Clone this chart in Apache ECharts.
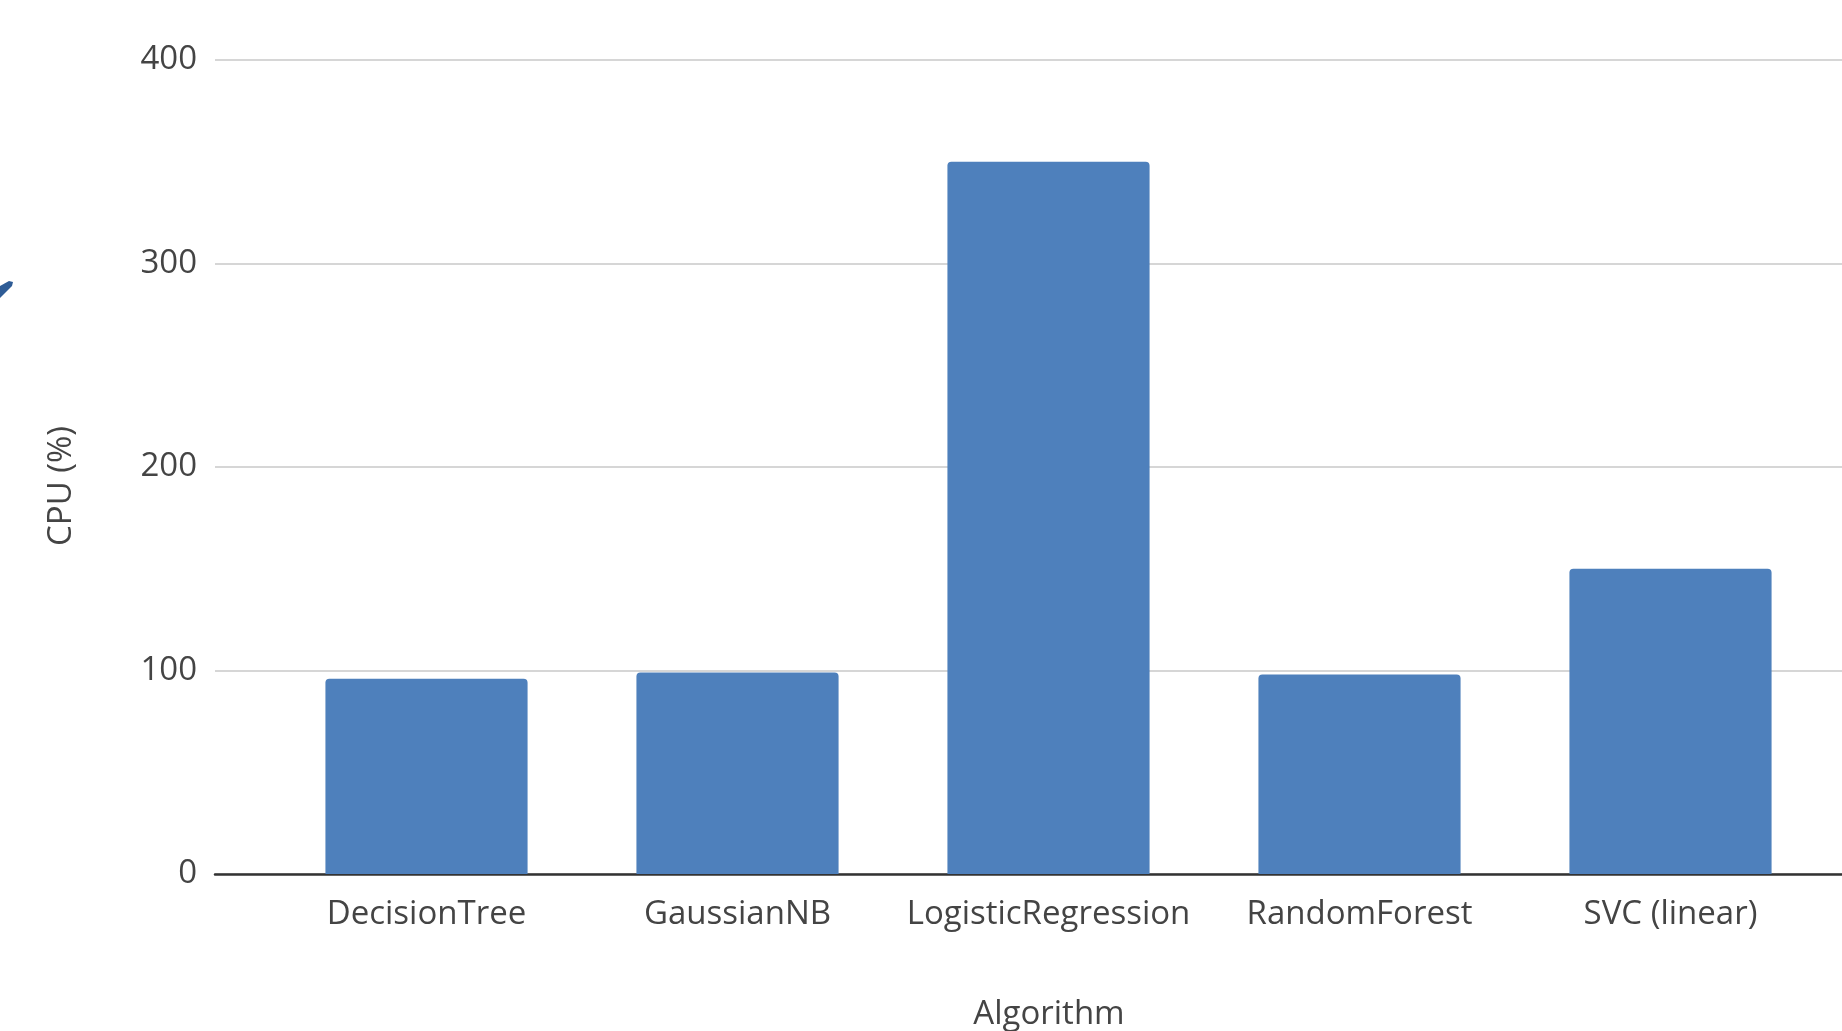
<!DOCTYPE html>
<html>
<head>
<meta charset="utf-8">
<script src="https://cdn.jsdelivr.net/npm/echarts@6/dist/echarts.min.js"></script>
<style>
html,body{margin:0;padding:0;background:#fff;}
#chart{width:1842px;height:1031px;}
</style>
</head>
<body>
<div id="chart"></div>
<script>
var categories = ['DecisionTree', 'GaussianNB', 'LogisticRegression', 'RandomForest', 'SVC (linear)'];
var cpuValues = [96, 99, 350, 98, 150];
var yTicks = [0, 100, 200, 300, 400];
var xTitle = 'Algorithm';
var yTitle = 'CPU (%)';

var FONT = '"Open Sans", sans-serif';
var FS = 33;
var chart = echarts.init(document.getElementById('chart'), null, {renderer: 'canvas'});
chart.setOption({
  animation: false,
  backgroundColor: '#ffffff',
  grid: [
    {left: 215, right: 0, top: 60, bottom: 157},
    {left: 271, right: 16, top: 60, bottom: 157}
  ],
  xAxis: [
    {gridIndex: 0, type: 'category', data: categories, show: true,
     axisLine: {show: true, lineStyle: {color: '#333333', width: 2.5}},
     axisTick: {show: false}, axisLabel: {show: false}, splitLine: {show: false}},
    {gridIndex: 1, type: 'category', data: categories,
     axisLine: {show: false}, axisTick: {show: false},
     axisLabel: {show: true, interval: 0, margin: 24, color: '#444444', fontFamily: FONT, fontSize: FS}}
  ],
  yAxis: [
    {gridIndex: 0, type: 'value', min: yTicks[0], max: yTicks[yTicks.length - 1], interval: 100,
     axisLine: {show: false}, axisTick: {show: false},
     axisLabel: {margin: 18, color: '#444444', fontFamily: FONT, fontSize: FS},
     splitLine: {show: true, lineStyle: {color: '#d6d6d6', width: 2}}},
    {gridIndex: 1, type: 'value', min: yTicks[0], max: yTicks[yTicks.length - 1], interval: 100,
     show: false, splitLine: {show: false}}
  ],
  series: [{
    type: 'bar',
    xAxisIndex: 1,
    yAxisIndex: 1,
    data: cpuValues,
    barWidth: '65%',
    itemStyle: {color: '#4e80bc', borderRadius: [4, 4, 0, 0]}
  }],
  graphic: [
    {type: 'text', x: 1049, y: 1015, style: {text: xTitle, fill: '#444444', font: FS + 'px ' + FONT, textAlign: 'center', textVerticalAlign: 'middle'}},
    {type: 'text', x: 62, y: 486, rotation: Math.PI / 2, style: {text: yTitle, fill: '#444444', font: FS + 'px ' + FONT, textAlign: 'center', textVerticalAlign: 'middle'}},
    {type: 'polygon', shape: {points: [[0, 286], [9, 281], [13, 282], [12, 286], [0, 298]]}, style: {fill: '#2e5c96'}}
  ]
});
</script>
</body>
</html>
